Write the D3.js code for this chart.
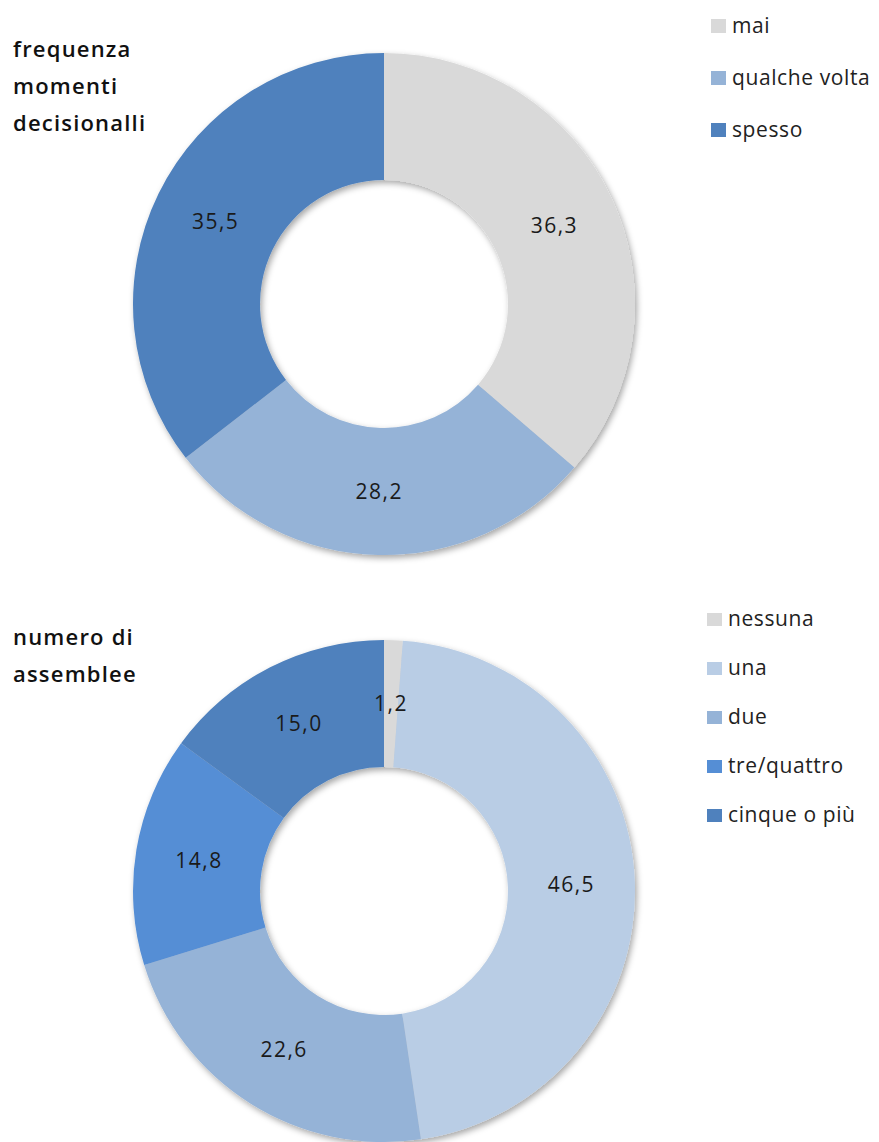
<!DOCTYPE html>
<html>
<head>
<meta charset="utf-8">
<script src="https://cdn.jsdelivr.net/npm/d3@7"></script>
<style>
  html, body { margin: 0; padding: 0; background: #fff; }
  svg { display: block; }
  text { font-family: "Open Sans", "Noto Sans", sans-serif; }
</style>
</head>
<body>
<svg id="chart" width="879" height="1142"></svg>
<script>
// Chart 1: frequenza momenti decisionali
const freqCategories = ["mai", "qualche volta", "spesso"];
const freqValues = [36.3, 28.2, 35.5];
const freqColors = ["#D9D9D9", "#95B3D7", "#4F81BD"];
const freqTitle = ["frequenza", "momenti", "decisionalli"];

// Chart 2: numero di assemblee
const assCategories = ["nessuna", "una", "due", "tre/quattro", "cinque o più"];
const assValues = [1.2, 46.5, 22.6, 14.8, 15.0];
const assColors = ["#D9D9D9", "#B9CDE5", "#95B3D7", "#558ED5", "#4F81BD"];
const assTitle = ["numero di", "assemblee"];

const svg = d3.select("#chart");

// soft shadow under each ring
const defs = svg.append("defs");
const f = defs.append("filter").attr("id", "ringShadow")
  .attr("x", "-10%").attr("y", "-10%").attr("width", "120%").attr("height", "120%");
f.append("feDropShadow").attr("dx", 2).attr("dy", 3).attr("stdDeviation", 3)
  .attr("flood-color", "#000").attr("flood-opacity", 0.35);

const fmt = v => d3.format(".1f")(v).replace(".", ",");

function donut(opts) {
  const { cx, cy, rOuter, rInner, categories, values, colors, title, titleX, titleY, titleStep,
          legendX, legendY, legendStep, swatchW, swatchH } = opts;

  const data = categories.map((c, i) => ({ cat: c, value: values[i], color: colors[i] }));
  const pie = d3.pie().sort(null).value(d => d.value);
  const arc = d3.arc().innerRadius(rInner).outerRadius(rOuter);

  const g = svg.append("g").attr("transform", `translate(${cx},${cy})`);
  const ring = g.append("g").attr("filter", "url(#ringShadow)");
  const arcs = pie(data);
  ring.selectAll("path").data(arcs).join("path")
    .attr("d", arc)
    .attr("fill", d => d.data.color);

  g.selectAll("text.val").data(arcs).join("text")
    .attr("class", "val")
    .attr("transform", d => {
      const [x, y] = arc.centroid(d);
      return `translate(${x},${y})`;
    })
    .attr("text-anchor", "middle")
    .attr("dy", "0.35em")
    .attr("font-size", 21)
    .attr("letter-spacing", 1.5)
    .attr("fill", "#1a1a1a")
    .text(d => fmt(d.data.value));

  // title block
  const t = svg.append("text")
    .attr("x", titleX).attr("y", titleY)
    .attr("font-size", 22).attr("font-weight", 600).attr("fill", "#111")
    .attr("letter-spacing", 1.2);
  title.forEach((line, i) => {
    t.append("tspan").attr("x", titleX).attr("y", titleY + i * titleStep).text(line);
  });

  // legend
  const lg = svg.append("g").attr("transform", `translate(${legendX},${legendY})`);
  const items = lg.selectAll("g").data(data).join("g")
    .attr("transform", (d, i) => `translate(0,${i * legendStep})`);
  items.append("rect")
    .attr("x", 0).attr("y", -swatchH)
    .attr("width", swatchW).attr("height", swatchH)
    .attr("fill", d => d.color);
  items.append("text")
    .attr("x", swatchW + 6).attr("y", 0)
    .attr("font-size", 21).attr("letter-spacing", 0.6).attr("fill", "#222")
    .text(d => d.cat);
}

donut({
  cx: 384, cy: 304, rOuter: 251, rInner: 124,
  categories: freqCategories, values: freqValues, colors: freqColors,
  title: freqTitle, titleX: 13, titleY: 57, titleStep: 37,
  legendX: 711, legendY: 33, legendStep: 52, swatchW: 15, swatchH: 14
});

donut({
  cx: 384, cy: 891, rOuter: 251, rInner: 124,
  categories: assCategories, values: assValues, colors: assColors,
  title: assTitle, titleX: 13, titleY: 645, titleStep: 37,
  legendX: 707, legendY: 626, legendStep: 49, swatchW: 15, swatchH: 13
});
</script>
</body>
</html>
